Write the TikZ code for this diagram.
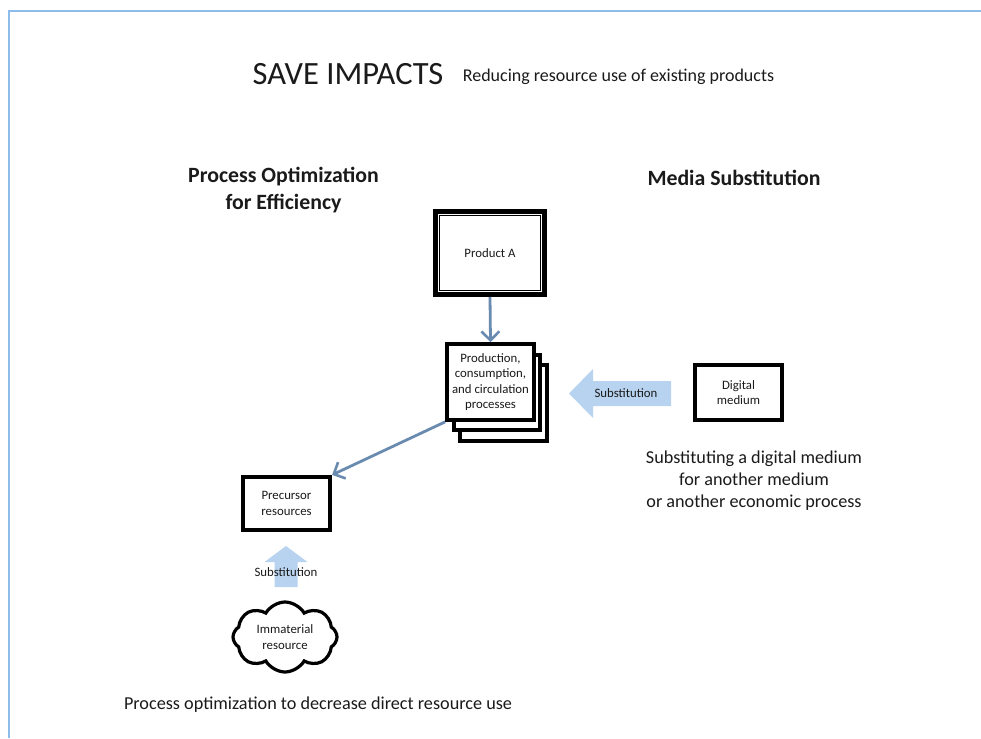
\documentclass[tikz,border=0pt]{standalone}
\usepackage{fontspec}
\setmainfont{Carlito}
\usetikzlibrary{shapes.symbols,arrows.meta,calc}
\definecolor{framebl}{HTML}{8DBDEA}
\definecolor{conn}{HTML}{6A8BB0}
\definecolor{fatbl}{HTML}{B7D3EF}
\definecolor{txt}{HTML}{1A1A1A}
\tikzset{
  box/.style={draw=black, fill=white, line width=4.2pt, inner sep=0pt, align=center, text=txt,
     font=\fontsize{12.8}{15.5}\selectfont},
  conarrow/.style={draw=conn, line width=2.8pt, -{Straight Barb[length=9pt,width=18pt,line width=2.6pt]}},
  lbl/.style={inner sep=0pt, text=txt, align=center},
}
\begin{document}
\begin{tikzpicture}[x=1pt,y=-1pt]
\useasboundingbox (0,0) rectangle (981,738);
% frame
\draw[framebl, line width=2pt] (9,738) -- (9,11) -- (981,11);
% title
\node[lbl, font=\fontsize{32.5}{36}\selectfont] (title) at (348,74) {SAVE IMPACTS};
\node[lbl, font=\fontsize{18}{21}\selectfont] (subtitle) at (618.5,77) {Reducing resource use of existing products};
% headings
\node[lbl, font=\bfseries\fontsize{21.8}{26.5}\selectfont] (h1) at (283.5,190) {Process Optimization\\for Efficiency};
\node[lbl, font=\bfseries\fontsize{21.8}{26.5}\selectfont] (h2) at (734,178) {Media Substitution};
% product A
\node[box, line width=5pt, minimum width=109pt, minimum height=83pt] (prodA) at (490,253) {Product A};
\draw[line width=1.3pt] ([shift={(6.5pt,-6.5pt)}]prodA.north west) rectangle ([shift={(-6.5pt,6.5pt)}]prodA.south east);
% processes stack
\node[box, minimum width=86.5pt, minimum height=75.5pt] (procC) at (503.5,403) {};
\node[box, minimum width=86.5pt, minimum height=75.5pt] (procB) at (497,392.5) {};
\node[box, minimum width=86.5pt, minimum height=75.5pt] (proc) at (490.5,382) {Production,\\consumption,\\and circulation\\processes};
% digital medium
\node[box, minimum width=87pt, minimum height=55pt] (digital) at (738.5,392.5) {Digital\\medium};
% precursor
\node[box, minimum width=87pt, minimum height=53pt] (prec) at (286.5,503.5) {Precursor\\resources};
% cloud
\node[cloud, cloud puffs=8, cloud puff arc=120, draw=black, fill=white, line width=3.2pt, aspect=1.6,
      minimum width=104pt, minimum height=70pt, inner sep=0pt, align=center, text=txt,
      font=\fontsize{12.8}{15.5}\selectfont] (cloud) at (285,637) {Immaterial\\resource};
% connectors
\draw[conarrow] (prodA.south) -- (proc.north);
\draw[conarrow] (proc.south west) -- (prec.north east);
% fat arrow left (digital -> proc)
\fill[fatbl] (671,381) -- (593,381) -- (593,369) -- (569,393.5) -- (593,418) -- (593,406) -- (671,406) -- cycle;
\node[lbl, font=\fontsize{12.8}{15}\selectfont] (sub1) at (626,393.5) {Substitution};
% fat arrow up (cloud -> prec)
\fill[fatbl] (274.5,587) -- (274.5,562) -- (264.5,562) -- (286,546) -- (307.5,562) -- (297.5,562) -- (297.5,587) -- cycle;
\node[lbl, font=\fontsize{12.8}{15}\selectfont] (sub2) at (286,572) {Substitution};
% bottom and right texts
\node[lbl, font=\fontsize{18.2}{22}\selectfont] (t1) at (754,481) {Substituting a digital medium\\for another medium\\or another economic process};
\node[lbl, font=\fontsize{18.2}{20}\selectfont] (t2) at (318,705) {Process optimization to decrease direct resource use};
\end{tikzpicture}
\end{document}
